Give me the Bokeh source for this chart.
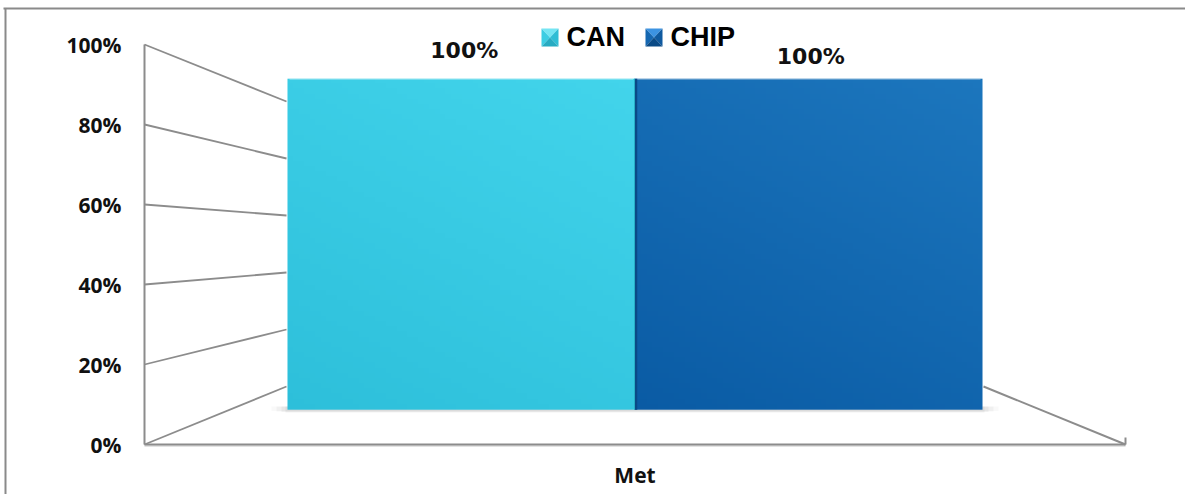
import numpy as np
from bokeh.plotting import figure
from bokeh.models import Range1d, LinearAxis, FixedTicker
from bokeh.embed import file_html
from bokeh.resources import INLINE
from bokeh.core.properties import value

# ---- data -------------------------------------------------------------
categories = ["Met"]
series_names = ["CAN", "CHIP"]
can_values = [100]
chip_values = [100]
y_ticks = [0, 20, 40, 60, 80, 100]
y_tick_labels = ["0%", "20%", "40%", "60%", "80%", "100%"]

# ---- styling ----------------------------------------------------------
W, H = 1185, 494
FLOOR_PX = 444          # screen row of the front 0% line
PX_PER_PCT = 4.0        # front-plane vertical scale
GRID = "#8c8c8c"

# 3-D box: front and back planes of the walls / floor
FRONT_X = (144.0, 1125.0)
BACK_X = (286.0, 983.0)
BACK_Y0, BACK_SCALE = 14.5, 0.7125   # back plane: v -> BACK_Y0 + BACK_SCALE*v
BAR_DEPTH = 0.6                      # depth of the bars' front faces
BAR_GAP = 0.0713                     # side gap inside the category

SERIES_COLORS = {
    # (bottom-left, top-right) of the face gradient
    "CAN": ("#2dbfda", "#42d4eb"),
    "CHIP": ("#0a5ba4", "#1c76bd"),
}
LEGEND_BEVEL = {
    "CAN": ("#74e5f3", "#3ccde3", "#2fbdd5", "#27abc2"),
    "CHIP": ("#3c93e2", "#1567b1", "#0f5aa0", "#0a4a86"),
}
LABEL_LIFT = [28, 22]
LABEL_SHIFT = [3, 2]


def sy(py):
    """screen row -> data y"""
    return (FLOOR_PX - py) / PX_PER_PCT


def proj(u, v, t):
    """category fraction u, value v, depth t -> data (x, y)"""
    xf = FRONT_X[0] + u * (FRONT_X[1] - FRONT_X[0])
    xb = BACK_X[0] + u * (BACK_X[1] - BACK_X[0])
    yb = BACK_Y0 + BACK_SCALE * v
    return xf + t * (xb - xf), v + t * (yb - v)


def hex_rgb(h):
    h = h.lstrip("#")
    return np.array([int(h[i:i + 2], 16) for i in (0, 2, 4)], dtype=float)


def gradient(c0, c1, nx=64, ny=64):
    a, b = hex_rgb(c0), hex_rgb(c1)
    xn = np.linspace(0, 1, nx)[None, :]
    yn = np.linspace(0, 1, ny)[:, None]
    t = 0.35 * xn + 0.65 * yn
    rgb = a[None, None, :] + (b - a)[None, None, :] * t[:, :, None]
    img = np.zeros((ny, nx), dtype=np.uint32)
    view = img.view(dtype=np.uint8).reshape((ny, nx, 4))
    view[:, :, 0] = rgb[:, :, 0].round()
    view[:, :, 1] = rgb[:, :, 1].round()
    view[:, :, 2] = rgb[:, :, 2].round()
    view[:, :, 3] = 255
    return img


p = figure(
    width=W, height=H,
    x_range=Range1d(0, W), y_range=Range1d(sy(H), sy(0)),
    output_backend="svg", toolbar_location=None,
    x_axis_location=None, y_axis_location=None,
    min_border=0,
)
p.outline_line_color = None
p.background_fill_color = "white"
p.border_fill_color = "white"
p.xgrid.grid_line_color = None
p.ygrid.grid_line_color = None

# outer chart border (top and left edges)
p.segment(x0=[3, 5], y0=[sy(8), sy(8)], x1=[W, 5], y1=[sy(8), sy(H)],
          line_color="#8a8a8a", line_width=2)

# left wall: gridlines receding from the value axis
gx0, gy0, gx1, gy1 = [], [], [], []
for v in y_ticks:
    a = proj(0, v, 0)
    b = proj(0, v, 1)
    gx0.append(a[0]); gy0.append(a[1]); gx1.append(b[0]); gy1.append(b[1])
p.segment(x0=gx0, y0=gy0, x1=gx1, y1=gy1, line_color=GRID, line_width=1.8)

# value axis line
a0, a1 = proj(0, y_ticks[0], 0), proj(0, y_ticks[-1], 0)
p.segment(x0=[a0[0]], y0=[a0[1]], x1=[a1[0]], y1=[a1[1]], line_color=GRID, line_width=2)

# floor: front edge, right edge and end tick
f0, f1 = proj(0, 0, 0), proj(1, 0, 0)
r0 = proj(1, 0, 1)
p.segment(x0=[f0[0]], y0=[f0[1] - 0.4], x1=[f1[0]], y1=[f1[1] - 0.4],
          line_color="#d8d8d8", line_width=1.5)
p.segment(x0=[f0[0], r0[0], f1[0]], y0=[f0[1], r0[1], f1[1]],
          x1=[f1[0], f1[0], f1[0]], y1=[f1[1], f1[1], f1[1] + 1.75],
          line_color=GRID, line_width=2)

# bars
values = [can_values[0], chip_values[0]]
n = len(series_names)
span = (1 - 2 * BAR_GAP) / n
bars = []
for i, (name, v) in enumerate(zip(series_names, values)):
    u0 = BAR_GAP + i * span
    u1 = u0 + span
    x0, yb = proj(u0, 0, BAR_DEPTH)
    x1, yt = proj(u1, v, BAR_DEPTH)
    bars.append((x0, x1, yb, yt))

# soft shadow under the bars (only the ends peek out)
bx0, bx1, bb = bars[0][0], bars[-1][1], bars[0][2]
for ext, drop, alpha in [(16, 0.3, 0.035), (11, 0.45, 0.05), (6, 0.6, 0.06), (2, 0.7, 0.07)]:
    p.quad(left=[bx0 - ext], right=[bx1 + ext], bottom=[bb - drop], top=[bb + 0.8],
           fill_color="#555555", fill_alpha=alpha, line_color=None)

for (x0, x1, yb, yt), name in zip(bars, series_names):
    c0, c1 = SERIES_COLORS[name]
    p.image_rgba(image=[gradient(c0, c1)], x=x0, y=yb, dw=x1 - x0, dh=yt - yb)
    # thin highlight along the top edge
    p.segment(x0=[x0 + 2], y0=[yt - 0.15], x1=[x1 - 2], y1=[yt - 0.15],
              line_color="white", line_alpha=0.35, line_width=1)

# darker side edge where the second bar meets the first
x0, x1, yb, yt = bars[1]
p.segment(x0=[x0 + 1], y0=[yb], x1=[x0 + 1], y1=[yt], line_color="#0a4a86", line_width=2.5)
x0, x1, yb, yt = bars[0]
p.segment(x0=[x1 - 0.5], y0=[yb], x1=[x1 - 0.5], y1=[yt], line_color="#27aec6", line_width=1)

# data labels
for i, ((x0, x1, yb, yt), v) in enumerate(zip(bars, values)):
    p.text(x=[(x0 + x1) / 2 + LABEL_SHIFT[i]], y=[yt], text=[f"{v:.0f}%"],
           y_offset=-LABEL_LIFT[i],
           text_align="center", text_baseline="middle",
           text_font=value("DejaVu Sans"), text_font_style="bold",
           text_font_size="22px", text_color="#111111")

# legend with bevelled markers
legend_x = [541, 645]
for name, lx in zip(series_names, legend_x):
    top, bot = sy(28), sy(46)
    l, r = lx, lx + 17
    cx, cy = (l + r) / 2, (top + bot) / 2
    c_top, c_left, c_right, c_bot = LEGEND_BEVEL[name]
    p.patches(
        xs=[[l, r, cx], [l, cx, l], [r, cx, r], [l, r, cx]],
        ys=[[top, top, cy], [top, cy, bot], [top, cy, bot], [bot, bot, cy]],
        fill_color=[c_top, c_left, c_right, c_bot], line_color=None,
    )
    p.text(x=[r + 8], y=[sy(36)], text=[name], text_align="left", text_baseline="middle",
           text_font=value("Liberation Sans"), text_font_style="bold",
           text_font_size="27px", text_color="#000000")

# value axis
yaxis = LinearAxis(
    fixed_location=FRONT_X[0],
    ticker=FixedTicker(ticks=y_ticks),
    major_label_overrides={t: lab for t, lab in zip(y_ticks, y_tick_labels)},
    axis_line_color=None, major_tick_line_color=None, minor_tick_line_color=None,
    major_label_standoff=17,
    major_label_text_font="Open Sans", major_label_text_font_style="bold",
    major_label_text_font_size="21px", major_label_text_color="#111111",
)
p.add_layout(yaxis, "left")

# category axis
cat_x = (FRONT_X[0] + FRONT_X[1]) / 2
xaxis = LinearAxis(
    fixed_location=0,
    ticker=FixedTicker(ticks=[cat_x]),
    major_label_overrides={cat_x: categories[0]},
    axis_line_color=None, major_tick_line_color=None, minor_tick_line_color=None,
    major_label_standoff=10,
    major_label_text_font="Open Sans", major_label_text_font_style="bold",
    major_label_text_font_size="21px", major_label_text_color="#111111",
)
p.add_layout(xaxis, "below")

open("out.html", "w").write(file_html(p, INLINE))
